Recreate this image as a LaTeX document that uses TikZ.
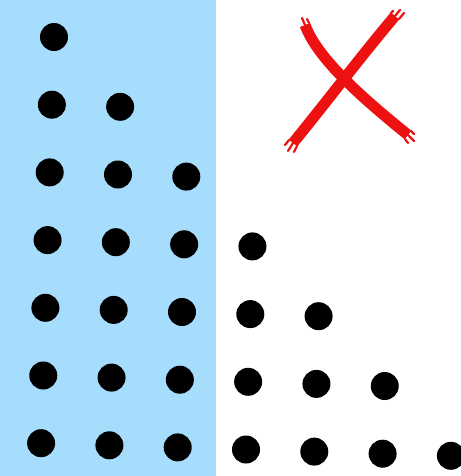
\documentclass[tikz,border=0pt]{standalone}
\usetikzlibrary{calc}
\definecolor{skyblue}{HTML}{A6DDFD}
\definecolor{xred}{HTML}{EE1111}
\begin{document}
\begin{tikzpicture}[x=1pt,y=-1pt,
  dot/.style={circle,fill=black,inner sep=0pt,minimum size=28pt},
  brush/.style={draw=xred,line width=11pt,line cap=butt},
  bristle/.style={draw=xred,line width=2.2pt,line cap=round}]
\useasboundingbox (0,0) rectangle (460,476);
\fill[skyblue] (0,0) rectangle (216,476);
\foreach \i in {0,...,6}{
  \foreach \j in {0,...,\i}{
    \node[dot] (d-\i-\j) at ({54-2.15*\i+68.3*\j},{37+67.7*\i+2.1*\j}) {};
  }
}
% red X
\coordinate (a1) at (293,143);
\coordinate (a2) at (395,16);
\coordinate (b1) at (305,25);
\coordinate (b2) at (408,135);
\draw[brush] (a1) .. controls (328,100) and (362,55) .. (a2);
\draw[brush] (b1) .. controls (318,60) and (365,100) .. (b2);
% bristles at ends
\draw[bristle] (a1) -- (288,151);
\draw[bristle] ($(a1)+(4,3)$) -- (294,152);
\draw[bristle] ($(a1)+(-4,-3)$) -- (285,145);
\draw[bristle] (a2) -- (400,10);
\draw[bristle] ($(a2)+(4,3)$) -- (404,13);
\draw[bristle] ($(a2)+(-4,-3)$) -- (393,11);
\draw[bristle] (b1) -- (302,18);
\draw[bristle] ($(b1)+(4,-2)$) -- (307,19);
\draw[bristle] (b2) -- (414,141);
\draw[bristle] ($(b2)+(-3,4)$) -- (408,143);
\draw[bristle] ($(b2)+(3,-4)$) -- (414,134);
\end{tikzpicture}
\end{document}
